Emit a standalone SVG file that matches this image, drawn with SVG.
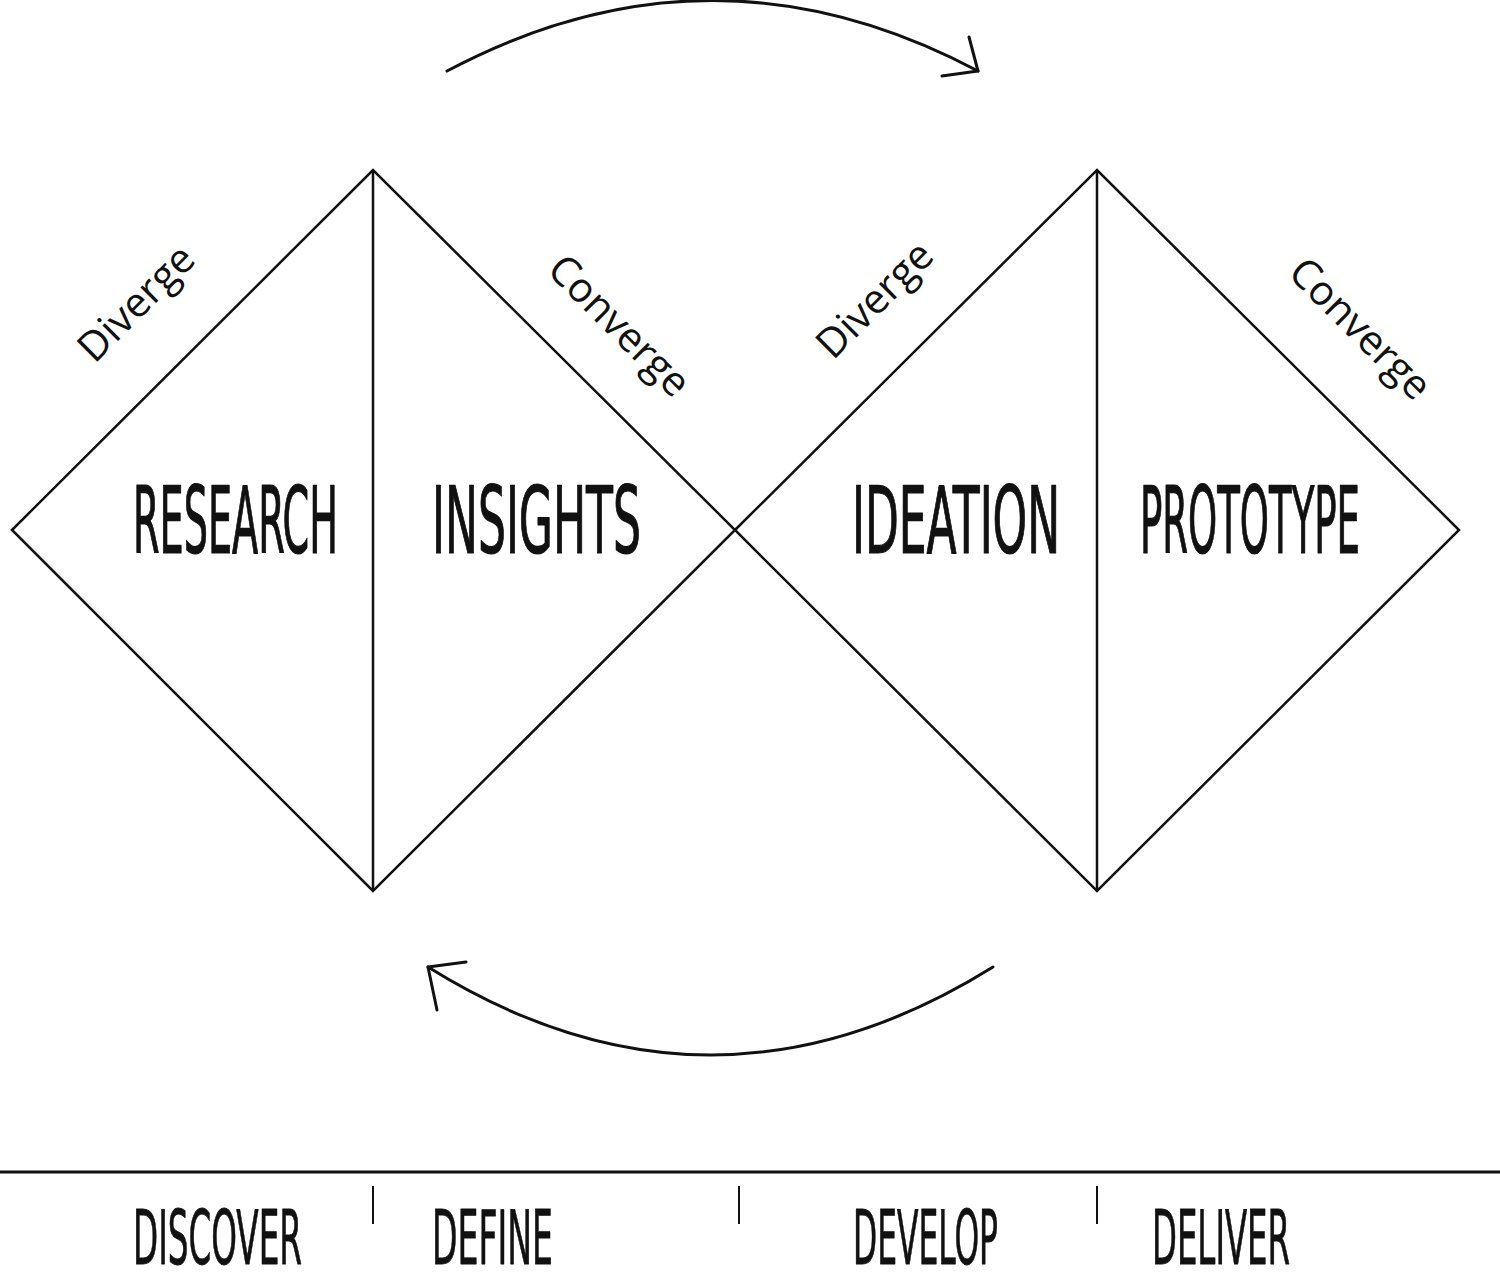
<svg xmlns="http://www.w3.org/2000/svg" width="1500" height="1281" viewBox="0 0 1500 1281">
<style>
.edge{fill:none;stroke:#111;stroke-width:2.5;stroke-linejoin:miter}
.arc{fill:none;stroke:#111;stroke-width:3;stroke-linecap:round;stroke-linejoin:round}
.big{font-family:'DejaVu Sans Condensed','Liberation Sans Narrow','Liberation Sans',sans-serif;font-size:92px;fill:#111;stroke:#111;stroke-width:1.2;stroke-linejoin:round}
.phase{font-family:'DejaVu Sans Condensed','Liberation Sans Narrow','Liberation Sans',sans-serif;font-size:75px;fill:#111;stroke:#111;stroke-width:0.8;stroke-linejoin:round}
.dir{font-family:'Open Sans','Noto Sans',sans-serif;font-size:41px;fill:#111;text-anchor:middle}
</style>
<rect width="1500" height="1281" fill="#fff"/>
<g id="diamond-discover-define">
<path class="edge" d="M12,530 L373,170 L735,530 L373,891 Z"/>
<line class="edge" x1="373" y1="170" x2="373" y2="891"/>
</g>
<g id="diamond-develop-deliver">
<path class="edge" d="M735,530 L1097,170 L1459,530 L1097,891 Z"/>
<line class="edge" x1="1097" y1="170" x2="1097" y2="891"/>
</g>
<g id="node-research"><text class="big" transform="translate(133,553) scale(0.46,1)" textLength="445.7" lengthAdjust="spacingAndGlyphs">RESEARCH</text></g>
<g id="node-insights"><text class="big" transform="translate(432,553) scale(0.46,1)" textLength="454.3" lengthAdjust="spacingAndGlyphs">INSIGHTS</text></g>
<g id="node-ideation"><text class="big" transform="translate(852,553) scale(0.46,1)" textLength="452.2" lengthAdjust="spacingAndGlyphs">IDEATION</text></g>
<g id="node-prototype"><text class="big" transform="translate(1140,553) scale(0.46,1)" textLength="478.3" lengthAdjust="spacingAndGlyphs">PROTOTYPE</text></g>
<g id="labels-direction">
<text class="dir" transform="translate(146,313) rotate(-45)">Diverge</text>
<text class="dir" transform="translate(609.5,335.5) rotate(45)">Converge</text>
<text class="dir" transform="translate(884.5,309.5) rotate(-45)">Diverge</text>
<text class="dir" transform="translate(1350.5,338.5) rotate(45)">Converge</text>
</g>
<g id="connectors">
<path class="arc" d="M447,71 Q712.5,-70 978,71"/>
<path class="arc" d="M969,37 L978,71 L942,76"/>
<path class="arc" d="M993,967 Q710.5,1143 428,967"/>
<path class="arc" d="M466,962 L428,967 L437,1010"/>
</g>
<g id="timeline">
<line x1="0" y1="1172" x2="1500" y2="1172" stroke="#111" stroke-width="3"/>
<line x1="373" y1="1186" x2="373" y2="1224" stroke="#111" stroke-width="2"/>
<line x1="739" y1="1186" x2="739" y2="1224" stroke="#111" stroke-width="2"/>
<line x1="1097" y1="1186" x2="1097" y2="1224" stroke="#111" stroke-width="2"/>
</g>
<g id="phase-discover"><text class="phase" transform="translate(133,1264) scale(0.48,1)" textLength="352.1" lengthAdjust="spacingAndGlyphs">DISCOVER</text></g>
<g id="phase-define"><text class="phase" transform="translate(432,1264) scale(0.48,1)" textLength="252.1" lengthAdjust="spacingAndGlyphs">DEFINE</text></g>
<g id="phase-develop"><text class="phase" transform="translate(853,1264) scale(0.48,1)" textLength="302.1" lengthAdjust="spacingAndGlyphs">DEVELOP</text></g>
<g id="phase-deliver"><text class="phase" transform="translate(1152,1264) scale(0.48,1)" textLength="287.5" lengthAdjust="spacingAndGlyphs">DELIVER</text></g>
</svg>
